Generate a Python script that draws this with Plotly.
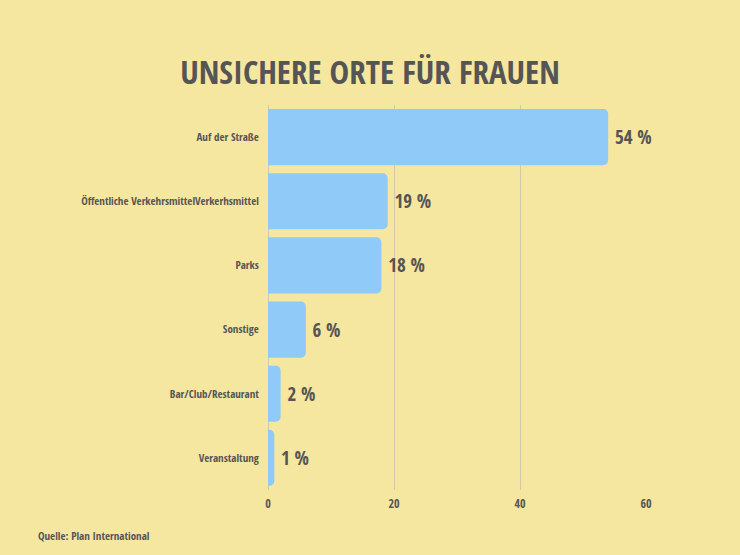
import plotly.graph_objects as go

categories = ["Auf der Straße", "Öffentliche VerkehrsmittelVerkerhsmittel", "Parks",
              "Sonstige", "Bar/Club/Restaurant", "Veranstaltung"]
values = [54, 19, 18, 6, 2, 1]
value_labels = ["54 %", "19 %", "18 %", "6 %", "2 %", "1 %"]
tick_vals = [0, 20, 40, 60]

FONT = "Open Sans Condensed, Roboto Condensed, DejaVu Sans Condensed, sans-serif"
BG = "#F5E6A0"
TXT = "#555555"
W, H = 740, 555
L, R, T, B = 268, 94, 105, 65
PW, PH = W - L - R, H - T - B

fig = go.Figure(go.Bar(
    x=values, y=categories, orientation="h",
    marker=dict(color="#8FCAF9", cornerradius=5, line=dict(width=0)),
    text=value_labels, textposition="outside",
    texttemplate="\u2009%{text}",
    textfont=dict(family=FONT, size=19, color=TXT, weight="bold"),
    cliponaxis=False,
))

fig.update_layout(
    width=W, height=H,
    paper_bgcolor=BG, plot_bgcolor=BG,
    margin=dict(l=L, r=R, t=T, b=B, pad=0),
    bargap=0.125,
    showlegend=False,
    title=dict(text="UNSICHERE ORTE FÜR FRAUEN", x=0.5, xanchor="center",
               y=1 - 72 / H, yanchor="middle",
               font=dict(family=FONT, size=33, color=TXT, weight="bold")),
    xaxis=dict(range=[0, 60], tickvals=tick_vals, showgrid=True, gridcolor="#CFC9AE",
               gridwidth=1, zeroline=True, zerolinecolor="#CFC9AE", zerolinewidth=1,
               tickfont=dict(family=FONT, size=12, color=TXT, weight="bold"),
               ticks="", showline=False, fixedrange=True, ticklabelstandoff=5),
    yaxis=dict(autorange="reversed", tickfont=dict(family=FONT, size=11, color=TXT, weight="bold"),
               ticks="", ticksuffix="   ", showgrid=False, fixedrange=True),
    annotations=[dict(text="Quelle: Plan International", xref="paper", yref="paper",
                      x=(36 - L) / PW, xanchor="left", y=-(535 - (H - B)) / PH, yanchor="middle",
                      showarrow=False,
                      font=dict(family=FONT, size=11, color=TXT, weight="bold"))],
)

fig.write_html("out.html", config={"displayModeBar": False},
               post_script="document.body.style.margin='0';")
